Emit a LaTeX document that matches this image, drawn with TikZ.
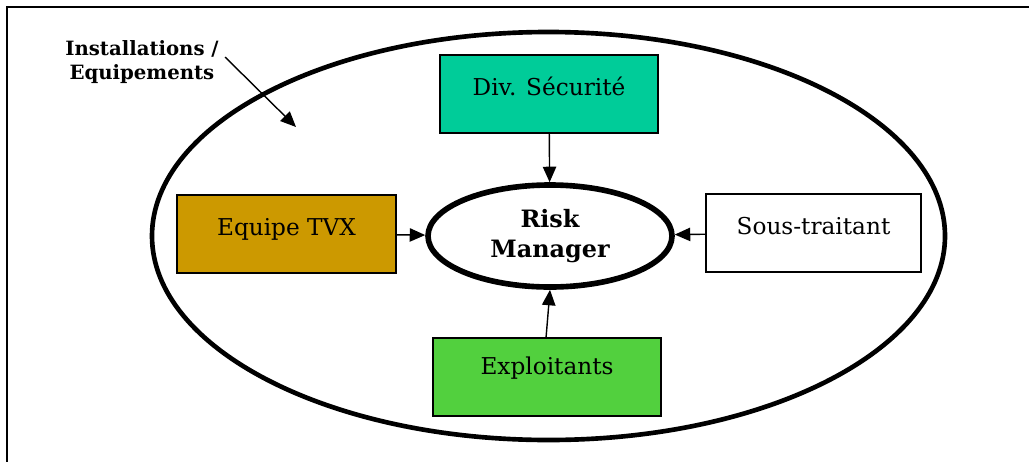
\documentclass[tikz,border=0pt]{standalone}
\usepackage{fontspec}
\setmainfont{DejaVu Serif}
\usetikzlibrary{positioning, shapes.geometric, arrows.meta}

\definecolor{secu_green}{HTML}{00CC99}
\definecolor{tvx_gold}{HTML}{CC9900}
\definecolor{expl_green}{HTML}{52D03E}

\begin{document}
\begin{tikzpicture}[x=0.025cm, y=-0.025cm]


\tikzstyle{box_style} = [rectangle, draw=black, line width=1.2, inner sep=0, minimum width=218*0.025cm, text height=1.0cm, text depth=0.95cm, font=\fontsize{16.5}{19}\selectfont]
\tikzstyle{edge_style} = [draw=black, line width=1, -{Triangle[length=11pt, width=9.5pt]}]

\useasboundingbox (0,0) rectangle (1029,461);

% frame (runs off the page right and below)
\draw[line width=1.8] (7,470) -- (7,7) -- (1040,7);

% outer ellipse
\node[ellipse, draw, line width=3.3, minimum width=793*0.025cm, minimum height=408*0.025cm] (inst) at (548.5,236) {};

\node[ellipse, draw, line width=4, minimum width=244*0.025cm, minimum height=102*0.025cm, align=center, font=\bfseries\fontsize{17}{21}\selectfont] (rm) at (550,236) {Risk\\Manager};

\node[box_style, fill=secu_green] (v0) at (549,94) {Div. Sécurité};
\node[box_style, fill=tvx_gold, minimum width=219*0.025cm] (v1) at (286.5,234) {Equipe TVX};
\node[box_style, fill=white, minimum width=215*0.025cm] (v2) at (813.5,233) {Sous-traitant};
\node[box_style, fill=expl_green, minimum width=228*0.025cm, text height=0.92cm, text depth=1.03cm] (v3) at (547,377) {Exploitants};

\node[align=center, font=\bfseries\fontsize{14}{17.5}\selectfont] (lbl) at (142,62) {Installations /\\Equipements};
\coordinate (lbl_start) at (225,57);
\coordinate (lbl_tip) at (296,127);
\coordinate (v3_top) at (546,338);

\draw[edge_style]  (v0) -- (rm);
\draw[edge_style]  (v1) -- (rm);
\draw[edge_style]  (v2) -- (rm);
\draw[edge_style]  (v3_top) -- (rm.south);
\draw[edge_style]  (lbl_start) -- (lbl_tip);

\end{tikzpicture}
\end{document}
